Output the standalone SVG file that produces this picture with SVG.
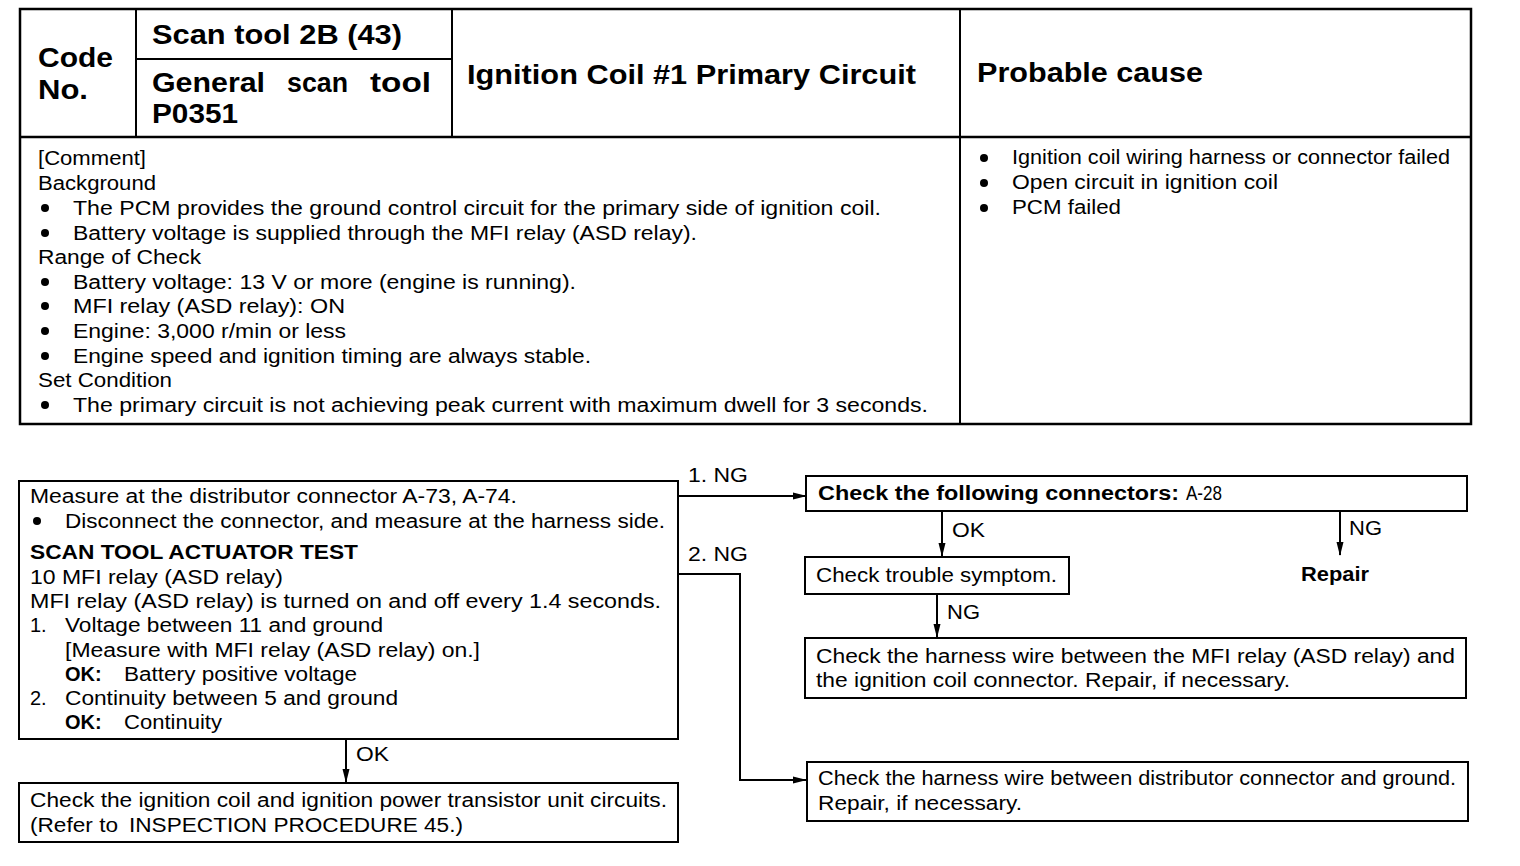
<svg xmlns="http://www.w3.org/2000/svg" width="1520" height="866" viewBox="0 0 1520 866">
<style>
text{font-family:"Liberation Sans",Arial,sans-serif;fill:#000}
.t{font-size:20px}
.b{font-weight:bold}
.h{font-size:27px;font-weight:bold}
.box{fill:#fff;stroke:#000;stroke-width:2}
.ln{fill:none;stroke:#000;stroke-width:2}
.tb{fill:none;stroke:#000;stroke-width:2.5}
</style>
<defs>
<marker id="ah" markerWidth="14" markerHeight="10" refX="13" refY="5" orient="auto" markerUnits="userSpaceOnUse">
<path d="M0,1.5 L14,5 L0,8.5 Z" fill="#000"/>
</marker>
</defs>
<rect width="1520" height="866" fill="#fff"/>

<g id="table">
<rect class="tb" x="20" y="9" width="1451" height="415"/>
<line class="tb" x1="20" y1="137" x2="1471" y2="137"/>
<line class="ln" x1="136" y1="9" x2="136" y2="137"/>
<line class="ln" x1="452" y1="9" x2="452" y2="137"/>
<line class="ln" x1="960" y1="9" x2="960" y2="424"/>
<line class="ln" x1="136" y1="59" x2="452" y2="59"/>
<text class="h" x="38" y="67" font-size="28" textLength="75" lengthAdjust="spacingAndGlyphs">Code</text>
<text class="h" x="38" y="99" textLength="50" lengthAdjust="spacingAndGlyphs">No.</text>
<text class="h" x="152" y="44" textLength="250" lengthAdjust="spacingAndGlyphs">Scan tool 2B (43)</text>
<text class="h" x="152" y="92" textLength="113" lengthAdjust="spacingAndGlyphs">General</text>
<text class="h" x="287" y="92" textLength="61" lengthAdjust="spacingAndGlyphs">scan</text>
<text class="h" x="370" y="92" textLength="61" lengthAdjust="spacingAndGlyphs">tool</text>
<text class="h" x="152" y="123" textLength="86" lengthAdjust="spacingAndGlyphs">P0351</text>
<text class="h" x="467" y="84" textLength="449" lengthAdjust="spacingAndGlyphs">Ignition Coil #1 Primary Circuit</text>
<text class="h" x="977" y="82" textLength="226" lengthAdjust="spacingAndGlyphs">Probable cause</text>

<text class="t" x="38" y="165" textLength="108" lengthAdjust="spacingAndGlyphs">[Comment]</text>
<text class="t" x="38" y="190" textLength="118" lengthAdjust="spacingAndGlyphs">Background</text>
<circle cx="45" cy="208" r="4"/>
<text class="t" x="73" y="215" textLength="808" lengthAdjust="spacingAndGlyphs">The PCM provides the ground control circuit for the primary side of ignition coil.</text>
<circle cx="45" cy="233" r="4"/>
<text class="t" x="73" y="240" textLength="624" lengthAdjust="spacingAndGlyphs">Battery voltage is supplied through the MFI relay (ASD relay).</text>
<text class="t" x="38" y="264" textLength="163" lengthAdjust="spacingAndGlyphs">Range of Check</text>
<circle cx="45" cy="282" r="4"/>
<text class="t" x="73" y="289" textLength="503" lengthAdjust="spacingAndGlyphs">Battery voltage: 13 V or more (engine is running).</text>
<circle cx="45" cy="306" r="4"/>
<text class="t" x="73" y="313" textLength="272" lengthAdjust="spacingAndGlyphs">MFI relay (ASD relay): ON</text>
<circle cx="45" cy="331" r="4"/>
<text class="t" x="73" y="338" textLength="273" lengthAdjust="spacingAndGlyphs">Engine: 3,000 r/min or less</text>
<circle cx="45" cy="356" r="4"/>
<text class="t" x="73" y="363" textLength="518" lengthAdjust="spacingAndGlyphs">Engine speed and ignition timing are always stable.</text>
<text class="t" x="38" y="387" textLength="134" lengthAdjust="spacingAndGlyphs">Set Condition</text>
<circle cx="45" cy="405" r="4"/>
<text class="t" x="73" y="412" textLength="855" lengthAdjust="spacingAndGlyphs">The primary circuit is not achieving peak current with maximum dwell for 3 seconds.</text>

<circle cx="984" cy="158" r="4"/>
<text class="t" x="1012" y="164" textLength="438" lengthAdjust="spacingAndGlyphs">Ignition coil wiring harness or connector failed</text>
<circle cx="984" cy="183" r="4"/>
<text class="t" x="1012" y="189" textLength="266" lengthAdjust="spacingAndGlyphs">Open circuit in ignition coil</text>
<circle cx="984" cy="208" r="4"/>
<text class="t" x="1012" y="214" textLength="109" lengthAdjust="spacingAndGlyphs">PCM failed</text>
</g>

<g id="connectors">
<line class="ln" x1="678" y1="496" x2="806" y2="496" marker-end="url(#ah)"/>
<text class="t" x="688" y="482" textLength="60" lengthAdjust="spacingAndGlyphs">1. NG</text>
<polyline class="ln" points="678,574 740,574 740,780 806,780" marker-end="url(#ah)"/>
<text class="t" x="688" y="561" textLength="60" lengthAdjust="spacingAndGlyphs">2. NG</text>
<line class="ln" x1="942" y1="511" x2="942" y2="556" marker-end="url(#ah)"/>
<text class="t" x="952" y="537" textLength="33" lengthAdjust="spacingAndGlyphs">OK</text>
<line class="ln" x1="1340" y1="511" x2="1340" y2="555" marker-end="url(#ah)"/>
<text class="t" x="1349" y="535" textLength="33" lengthAdjust="spacingAndGlyphs">NG</text>
<line class="ln" x1="937" y1="594" x2="937" y2="637" marker-end="url(#ah)"/>
<text class="t" x="947" y="619" textLength="33" lengthAdjust="spacingAndGlyphs">NG</text>
<line class="ln" x1="346" y1="739" x2="346" y2="782" marker-end="url(#ah)"/>
<text class="t" x="356" y="761" textLength="33" lengthAdjust="spacingAndGlyphs">OK</text>
</g>

<g id="measure">
<rect class="box" x="19" y="481" width="659" height="258"/>
<text class="t" x="30" y="503" textLength="487" lengthAdjust="spacingAndGlyphs">Measure at the distributor connector A-73, A-74.</text>
<circle cx="37" cy="521" r="4"/>
<text class="t" x="65" y="528" textLength="600" lengthAdjust="spacingAndGlyphs">Disconnect the connector, and measure at the harness side.</text>
<text class="t b" x="30" y="559" textLength="328" lengthAdjust="spacingAndGlyphs">SCAN TOOL ACTUATOR TEST</text>
<text class="t" x="30" y="584" textLength="253" lengthAdjust="spacingAndGlyphs">10 MFI relay (ASD relay)</text>
<text class="t" x="30" y="608" textLength="631" lengthAdjust="spacingAndGlyphs">MFI relay (ASD relay) is turned on and off every 1.4 seconds.</text>
<text class="t" x="30" y="632">1.</text>
<text class="t" x="65" y="632" textLength="318" lengthAdjust="spacingAndGlyphs">Voltage between 11 and ground</text>
<text class="t" x="65" y="657" textLength="415" lengthAdjust="spacingAndGlyphs">[Measure with MFI relay (ASD relay) on.]</text>
<text class="t b" x="65" y="681">OK:</text>
<text class="t" x="124" y="681" textLength="233" lengthAdjust="spacingAndGlyphs">Battery positive voltage</text>
<text class="t" x="30" y="705">2.</text>
<text class="t" x="65" y="705" textLength="333" lengthAdjust="spacingAndGlyphs">Continuity between 5 and ground</text>
<text class="t b" x="65" y="729">OK:</text>
<text class="t" x="124" y="729" textLength="98" lengthAdjust="spacingAndGlyphs">Continuity</text>
</g>

<g id="check-connectors">
<rect class="box" x="806" y="476" width="661" height="35"/>
<text class="t b" x="818" y="500" textLength="361" lengthAdjust="spacingAndGlyphs">Check the following connectors:</text>
<text class="t" x="1186" y="500" textLength="36" lengthAdjust="spacingAndGlyphs">A-28</text>
</g>

<g id="repair">
<text class="t b" x="1301" y="581" textLength="68" lengthAdjust="spacingAndGlyphs">Repair</text>
</g>

<g id="trouble-symptom">
<rect class="box" x="805" y="557" width="264" height="37"/>
<text class="t" x="816" y="582" textLength="241" lengthAdjust="spacingAndGlyphs">Check trouble symptom.</text>
</g>

<g id="harness-mfi">
<rect class="box" x="805" y="638" width="661" height="60"/>
<text class="t" x="816" y="663" textLength="639" lengthAdjust="spacingAndGlyphs">Check the harness wire between the MFI relay (ASD relay) and</text>
<text class="t" x="816" y="687" textLength="474" lengthAdjust="spacingAndGlyphs">the ignition coil connector. Repair, if necessary.</text>
</g>

<g id="harness-ground">
<rect class="box" x="807" y="762" width="661" height="59"/>
<text class="t" x="818" y="785" textLength="638" lengthAdjust="spacingAndGlyphs">Check the harness wire between distributor connector and ground.</text>
<text class="t" x="818" y="810" textLength="204" lengthAdjust="spacingAndGlyphs">Repair, if necessary.</text>
</g>

<g id="ignition-check">
<rect class="box" x="19" y="783" width="659" height="59"/>
<text class="t" x="30" y="807" textLength="637" lengthAdjust="spacingAndGlyphs">Check the ignition coil and ignition power transistor unit circuits.</text>
<text class="t" x="30" y="832" textLength="88" lengthAdjust="spacingAndGlyphs">(Refer to</text>
<text class="t" x="129" y="832" textLength="334" lengthAdjust="spacingAndGlyphs">INSPECTION PROCEDURE 45.)</text>
</g>
</svg>
